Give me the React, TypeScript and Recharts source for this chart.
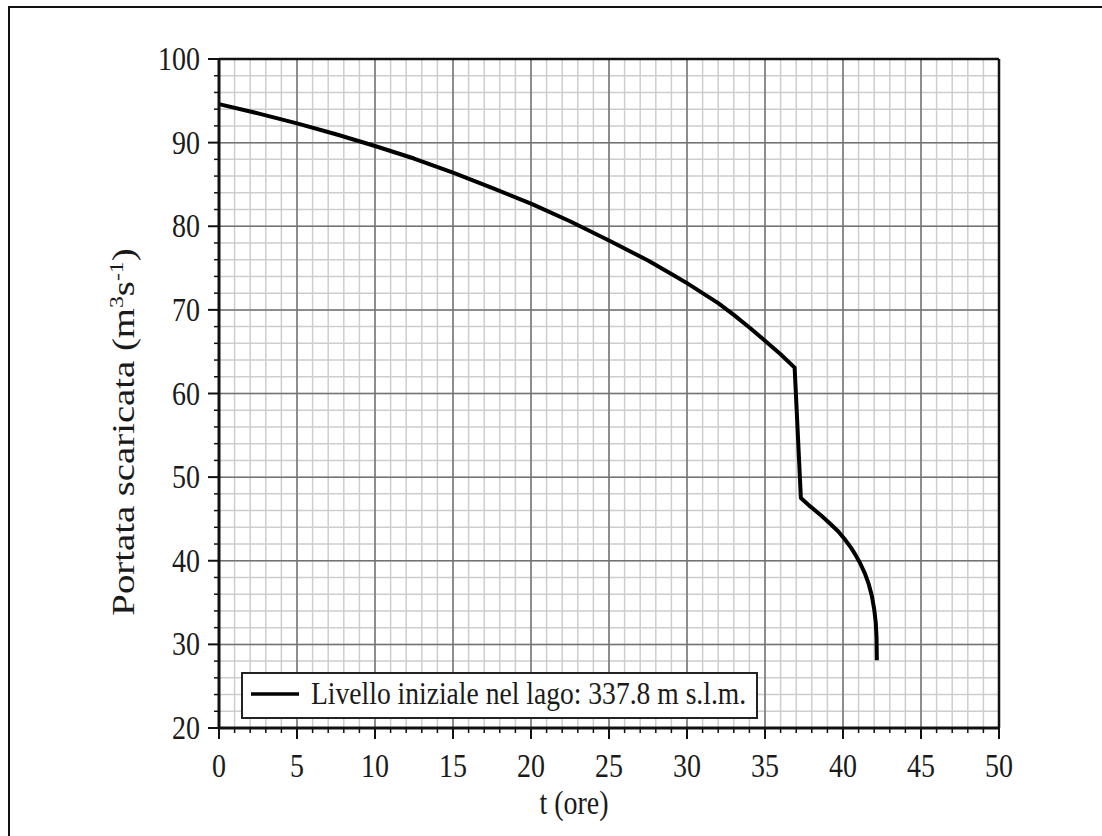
import React from 'react';
import { LineChart, Line, XAxis, YAxis, CartesianGrid, ReferenceLine, Legend, Label } from 'recharts';

const tHours = [0, 2.5, 5, 7.5, 10, 12.5, 15, 17.5, 20, 22.5, 25, 27.5, 29, 30, 31, 32, 33, 34, 35, 36, 36.9, 37.3, 37.9, 38.6, 39.2, 39.7, 40.1, 40.5, 40.8, 41.1, 41.4, 41.65, 41.85, 42.0, 42.1, 42.15, 42.17];
const discharge = [94.6, 93.5, 92.3, 91.0, 89.6, 88.1, 86.4, 84.6, 82.7, 80.6, 78.3, 75.9, 74.3, 73.2, 72.0, 70.8, 69.4, 67.9, 66.3, 64.7, 63.1, 47.5, 46.5, 45.4, 44.4, 43.5, 42.6, 41.6, 40.7, 39.7, 38.5, 37.2, 35.8, 34.2, 32.6, 30.8, 28.1];

const xTicks = [0, 1, 2, 3, 4, 5, 6, 7, 8, 9, 10, 11, 12, 13, 14, 15, 16, 17, 18, 19, 20, 21, 22, 23, 24, 25, 26, 27, 28, 29, 30, 31, 32, 33, 34, 35, 36, 37, 38, 39, 40, 41, 42, 43, 44, 45, 46, 47, 48, 49, 50];
const xMajor = [0, 5, 10, 15, 20, 25, 30, 35, 40, 45, 50];
const yTicks = [20, 22, 24, 26, 28, 30, 32, 34, 36, 38, 40, 42, 44, 46, 48, 50, 52, 54, 56, 58, 60, 62, 64, 66, 68, 70, 72, 74, 76, 78, 80, 82, 84, 86, 88, 90, 92, 94, 96, 98, 100];
const yMajor = [20, 30, 40, 50, 60, 70, 80, 90, 100];

const seriesName = 'Livello iniziale nel lago: 337.8 m s.l.m.';
const xTitle = 't (ore)';

const data = tHours.map((t, i) => ({ t, q: discharge[i] }));

const FONT = '"Liberation Serif", "Times New Roman", serif';
const SY = 1.18;

const XTick = (props: any) => {
  const { x, y, payload } = props;
  const v = payload.value;
  const major = xMajor.includes(v);
  return (
    <g>
      <line x1={x} x2={x} y1={y - 1} y2={y + (major ? 11 : 5)} stroke="#111" strokeWidth={major ? 2 : 1.5} />
      {major && (
        <text transform={`translate(${x},${y + 49}) scale(1,${SY})`} textAnchor="middle" fontFamily={FONT} fontSize={28} fill="#1a1a1a">
          {v}
        </text>
      )}
    </g>
  );
};

const YTick = (props: any) => {
  const { x, y, payload } = props;
  const v = payload.value;
  const major = yMajor.includes(v);
  return (
    <g>
      <line x1={x - (major ? 11 : 5)} x2={x + 1} y1={y} y2={y} stroke="#111" strokeWidth={major ? 2 : 1.5} />
      {major && (
        <text transform={`translate(${x - 19},${y + 11}) scale(1,${SY})`} textAnchor="end" fontFamily={FONT} fontSize={28} fill="#1a1a1a">
          {v}
        </text>
      )}
    </g>
  );
};

const YTitle = () => (
  <text transform={`translate(124,424) scale(1,1.25) rotate(-90)`} textAnchor="middle" fontFamily={FONT} fontSize={31} fill="#1a1a1a">
    Portata scaricata (m<tspan dy={-11} fontSize={19}>3</tspan><tspan dy={11}>s</tspan><tspan dy={-11} fontSize={19}>-1</tspan><tspan dy={11}>)</tspan>
  </text>
);

const XTitle = () => (
  <text transform={`translate(564,806) scale(1,${SY})`} textAnchor="middle" fontFamily={FONT} fontSize={28} fill="#1a1a1a">
    {xTitle}
  </text>
);

const LegendBox = () => (
  <svg width={517} height={48} style={{ display: 'block' }}>
    <rect x={1} y={1} width={515} height={45} fill="#fff" stroke="#222" strokeWidth={2} />
    <line x1={10} x2={58} y1={22} y2={22} stroke="#000" strokeWidth={3.5} />
    <text transform={`translate(70,32) scale(1,${SY})`} fontFamily={FONT} fontSize={27.6} fill="#1a1a1a">
      {seriesName}
    </text>
  </svg>
);

export default function App() {
  return (
    <div style={{ position: 'absolute', left: 8, top: 6, borderTop: '2px solid #111', borderLeft: '2px solid #111', width: 1092, height: 828, background: '#fff' }}>
      <LineChart width={1092} height={828} data={data} margin={{ top: 51, right: 103, bottom: 48, left: 149 }}>
        <CartesianGrid stroke="#cdcdcd" strokeWidth={1.5} />
        <CartesianGrid stroke="#737373" strokeWidth={1.5} horizontalValues={yMajor} verticalValues={xMajor} />
        <XAxis
          dataKey="t"
          type="number"
          domain={[0, 50]}
          ticks={xTicks}
          interval={0}
          tickLine={false}
          tickSize={0}
          tickMargin={0}
          tick={<XTick />}
          axisLine={{ stroke: '#111', strokeWidth: 3 }}
          height={60}
        >
          <Label content={<XTitle />} />
        </XAxis>
        <YAxis
          type="number"
          domain={[20, 100]}
          ticks={yTicks}
          interval={0}
          tickLine={false}
          tickSize={0}
          tickMargin={0}
          tick={<YTick />}
          axisLine={{ stroke: '#111', strokeWidth: 3 }}
          width={60}
        >
          <Label content={<YTitle />} />
        </YAxis>
        <ReferenceLine y={100} stroke="#111" strokeWidth={2.5} />
        <ReferenceLine x={50} stroke="#111" strokeWidth={2.5} />
        <Line type="linear" dataKey="q" name={seriesName} stroke="#000" strokeWidth={4} strokeLinejoin="round" dot={false} isAnimationActive={false} />
        <Legend layout="vertical" align="center" verticalAlign="middle" content={<LegendBox />} wrapperStyle={{ position: 'absolute', left: 231, top: 664, width: 517, height: 48 }} />
      </LineChart>
    </div>
  );
}
